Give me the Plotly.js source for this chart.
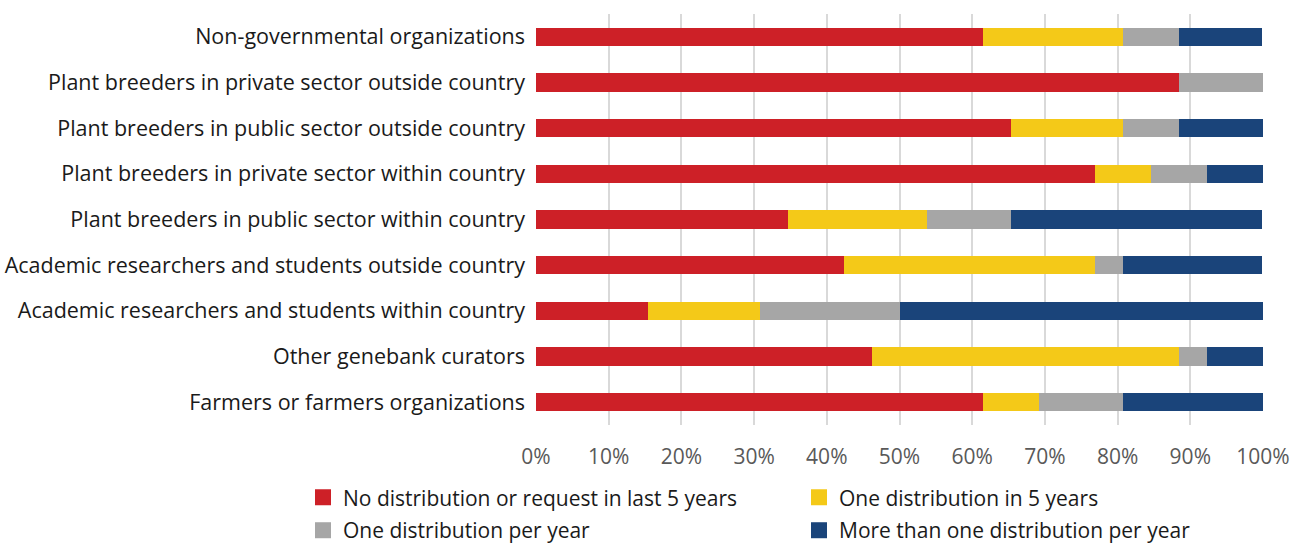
<!DOCTYPE html>
<html>
<head>
<meta charset="utf-8">
<script src="https://cdn.plot.ly/plotly-3.0.1.min.js"></script>
<style>html,body{margin:0;padding:0;background:#fff;}#chart{width:1306px;height:545px;}</style>
</head>
<body>
<div id="chart"></div>
<script>
var categories = [
  "Non-governmental organizations",
  "Plant breeders in private sector outside country",
  "Plant breeders in public sector outside country",
  "Plant breeders in private sector within country",
  "Plant breeders in public sector within country",
  "Academic researchers and students outside country",
  "Academic researchers and students within country",
  "Other genebank curators",
  "Farmers or farmers organizations"
];
var seriesNames = [
  "No distribution or request in last 5 years",
  "One distribution in 5 years",
  "One distribution per year",
  "More than one distribution per year"
];
var noDistribution = [61.5, 88.5, 65.4, 76.9, 34.6, 42.3, 15.4, 46.2, 61.5];
var oneIn5Years    = [19.2, 0.0, 15.4, 7.7, 19.2, 34.6, 15.4, 42.3, 7.7];
var onePerYear     = [7.7, 11.5, 7.7, 7.7, 11.5, 3.8, 19.2, 3.8, 11.5];
var moreThanOne    = [11.5, 0.0, 11.5, 7.7, 34.6, 19.2, 50.0, 7.7, 19.3];
var colors = ["#CD2027", "#F4C918", "#A6A6A6", "#1A447A"];
var legendRows = ["legend", "legend", "legend2", "legend2"];

var values = [noDistribution, oneIn5Years, onePerYear, moreThanOne];
var traces = [];
for (var i = 0; i < 4; i++) {
  traces.push({
    type: "bar", orientation: "h",
    y: categories, x: values[i],
    name: seriesNames[i],
    marker: {color: colors[i], line: {width: 0}},
    width: 0.4,
    showlegend: false,
    hoverinfo: "x+name"
  });
}
for (var j = 0; j < 4; j++) {
  traces.push({
    type: "scatter", mode: "markers",
    x: [null], y: [null],
    name: seriesNames[j],
    legend: legendRows[j],
    marker: {symbol: "square", size: 16, color: colors[j]},
    showlegend: true, hoverinfo: "skip"
  });
}

function legendRow(yPos) {
  return {
    orientation: "h",
    x: -0.3205, xanchor: "left",
    y: yPos, yanchor: "top",
    entrywidth: 451, entrywidthmode: "pixels",
    font: {size: 21, color: "#1a1a1a"},
    bgcolor: "rgba(0,0,0,0)",
    itemclick: false, itemdoubleclick: false,
    traceorder: "normal"
  };
}

var layout = {
  width: 1306, height: 545,
  barmode: "stack",
  paper_bgcolor: "#ffffff", plot_bgcolor: "#ffffff",
  font: {family: "Open Sans, Noto Sans, sans-serif", size: 21, color: "#1a1a1a"},
  margin: {l: 536, r: 43, t: 14, b: 120, autoexpand: false},
  xaxis: {
    range: [0, 100], dtick: 10, tick0: 0, ticksuffix: "%",
    showgrid: true, gridcolor: "#D9D9D9", gridwidth: 2,
    zeroline: false, showline: false, ticks: "",
    ticklabelstandoff: 17,
    tickfont: {size: 21, color: "#595959"},
    fixedrange: true
  },
  yaxis: {
    type: "category", autorange: "reversed",
    categoryorder: "array", categoryarray: categories,
    showgrid: false, zeroline: false, showline: false, ticks: "",
    ticklabelstandoff: 10,
    tickfont: {size: 21.5, color: "#1a1a1a"},
    fixedrange: true
  },
  legend: legendRow(-0.127),
  legend2: legendRow(-0.207),
  showlegend: true
};
Plotly.newPlot("chart", traces, layout, {displayModeBar: false, staticPlot: true});
</script>
</body>
</html>
